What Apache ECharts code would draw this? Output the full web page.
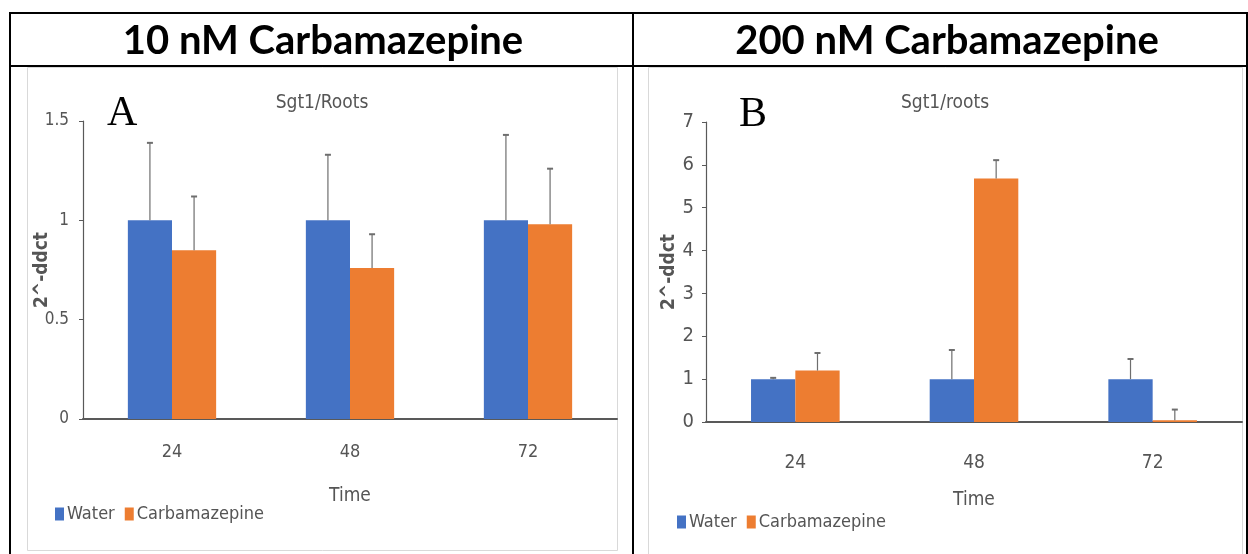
<!DOCTYPE html>
<html>
<head>
<meta charset="utf-8">
<script src="https://cdn.jsdelivr.net/npm/echarts@6/dist/echarts.min.js"></script>
<style>
  html, body { margin: 0; padding: 0; background: #ffffff; }
  #chart { width: 1248px; height: 554px; }
</style>
</head>
<body>
<div id="chart"></div>
<script>
// Time points (hours)
const categories = ['24', '48', '72'];

// Panel A: 10 nM Carbamazepine, Sgt1 expression in roots (2^-ddct)
const waterA = [1, 1, 1];
const waterAErr = [0.39, 0.33, 0.43];
const carbA = [0.85, 0.76, 0.98];
const carbAErr = [0.27, 0.17, 0.28];

// Panel B: 200 nM Carbamazepine
const waterB = [1, 1, 1];
const waterBErr = [0.03, 0.68, 0.47];
const carbB = [1.2, 5.68, 0.04];
const carbBErr = [0.41, 0.43, 0.25];

const seriesNames = ['Water', 'Carbamazepine'];
const headers = ['10 nM Carbamazepine', '200 nM Carbamazepine'];
const chartTitles = ['Sgt1/Roots', 'Sgt1/roots'];
const panelLetters = ['A', 'B'];
const yName = '2^-ddct';
const xName = 'Time';

const BLUE = '#4472C4';
const ORANGE = '#ED7D31';
const GREY_TEXT = '#555555';
const NARROW = "'Liberation Sans Narrow', 'DejaVu Sans Condensed', sans-serif";
const BAR_FRAC = 0.248;

const chart = echarts.init(document.getElementById('chart'), null, { renderer: 'canvas' });

// Error bar drawn upward from the bar top; side = -1 for water (left bar), +1 for carbamazepine
function errorRenderer(side) {
  return function (params, api) {
    const idx = api.value(0);
    const mean = api.value(1);
    const err = api.value(2);
    const band = api.size([1, 0])[0];
    const bw = band * BAR_FRAC;
    const base = api.coord([idx, mean]);
    const top = api.coord([idx, mean + err]);
    const x = base[0] + side * bw / 2;
    const style = { stroke: '#6e6e6e', lineWidth: 1.2 };
    return {
      type: 'group',
      children: [
        { type: 'line', shape: { x1: x, y1: base[1], x2: x, y2: top[1] }, style },
        { type: 'line', shape: { x1: x - 3, y1: top[1], x2: x + 3, y2: top[1] }, style: { stroke: '#6e6e6e', lineWidth: 2 } }
      ]
    };
  };
}

function errData(means, errs) {
  return means.map((m, i) => [i, m, errs[i]]);
}

const axisLabelBase = { color: GREY_TEXT, fontFamily: NARROW };

function makeXAxis(gridIndex, fontSize, margin, nameGap) {
  return {
    type: 'category', gridIndex, data: categories,
    axisTick: { show: false },
    axisLine: { lineStyle: { color: '#595959', width: 2 } },
    axisLabel: Object.assign({ fontSize, margin }, axisLabelBase),
    name: xName, nameLocation: 'middle', nameGap, nameMoveOverlap: false,
    nameTextStyle: { color: GREY_TEXT, fontFamily: NARROW, fontSize: 19 }
  };
}

function makeYAxis(gridIndex, max, interval, fontSize, labelMargin, nameGap) {
  return {
    type: 'value', gridIndex, min: 0, max, interval,
    splitLine: { show: false },
    axisLine: { show: true, lineStyle: { color: '#595959', width: 1.2 } },
    axisTick: { show: true, length: 4, lineStyle: { color: '#595959' } },
    axisLabel: Object.assign({ fontSize, margin: labelMargin }, axisLabelBase),
    name: yName, nameLocation: 'middle', nameGap, nameMoveOverlap: false,
    nameTextStyle: { color: GREY_TEXT, fontFamily: NARROW, fontSize: 19, fontWeight: 'bold' }
  };
}

function barSeries(name, data, axisIndex, color) {
  return {
    type: 'bar', name, data, xAxisIndex: axisIndex, yAxisIndex: axisIndex,
    barWidth: (BAR_FRAC * 100) + '%', barGap: '0%',
    itemStyle: { color }, emphasis: { disabled: true }
  };
}

function errSeries(name, means, errs, axisIndex, side) {
  return {
    type: 'custom', name, xAxisIndex: axisIndex, yAxisIndex: axisIndex,
    data: errData(means, errs), renderItem: errorRenderer(side), z: 5,
    silent: true
  };
}

function legend(left, top) {
  return {
    data: seriesNames, left, top, orient: 'horizontal',
    icon: 'rect', itemWidth: 9, itemHeight: 13, itemGap: 10,
    textStyle: { color: GREY_TEXT, fontFamily: NARROW, fontSize: 18, padding: [0, 0, 0, -2] }
  };
}

// Table frame and panel borders
const blk = { stroke: '#000000', lineWidth: 2 };
const frame = [
  [9, 13, 1248, 13], [9, 66, 1248, 66],
  [10, 13, 10, 554], [633, 13, 633, 554], [1247, 13, 1247, 554]
].map(l => ({ type: 'line', silent: true, shape: { x1: l[0], y1: l[1], x2: l[2], y2: l[3] }, style: blk, z: 10 }));

const panels = [
  { x: 27.5, y: 67.5, w: 590, h: 483 },
  { x: 648.5, y: 67.5, w: 594, h: 490 }
].map(p => ({ type: 'rect', silent: true, shape: { x: p.x, y: p.y, width: p.w, height: p.h }, style: { fill: '#ffffff', stroke: '#d9d9d9', lineWidth: 1 }, z: -10 }));

function txt(text, x, y, font, fill, align) {
  return { type: 'text', x, y, silent: true, z: 20,
    style: { text, font, fill, align: align || 'center', textAlign: align || 'center', verticalAlign: 'middle', textVerticalAlign: 'middle' } };
}

const texts = [
  txt(headers[0], 323, 41, "bold 40px Lato, 'Liberation Sans', sans-serif", '#000000'),
  txt(headers[1], 947, 41, "bold 40px Lato, 'Liberation Sans', sans-serif", '#000000'),
  txt(chartTitles[0], 322, 103, "19px " + NARROW, GREY_TEXT),
  txt(chartTitles[1], 945, 103, "19px " + NARROW, GREY_TEXT),
  txt(panelLetters[0], 107, 114, "42px 'Liberation Serif', serif", '#000000', 'left'),
  txt(panelLetters[1], 739, 115, "42px 'Liberation Serif', serif", '#000000', 'left')
];

chart.setOption({
  animation: false,
  backgroundColor: '#ffffff',
  color: [BLUE, ORANGE],
  grid: [
    { left: 83, right: 631, top: 121, bottom: 135 },
    { left: 706, right: 6, top: 122, bottom: 132 }
  ],
  xAxis: [makeXAxis(0, 18, 24, 68), makeXAxis(1, 19, 32, 69)],
  yAxis: [makeYAxis(0, 1.5, 0.5, 17, 14, 31), makeYAxis(1, 7, 1, 20, 12, 27)],
  legend: [legend(50, 500), legend(672, 508)],
  series: [
    barSeries(seriesNames[0], waterA, 0, BLUE),
    barSeries(seriesNames[1], carbA, 0, ORANGE),
    errSeries(seriesNames[0], waterA, waterAErr, 0, -1),
    errSeries(seriesNames[1], carbA, carbAErr, 0, 1),
    barSeries(seriesNames[0], waterB, 1, BLUE),
    barSeries(seriesNames[1], carbB, 1, ORANGE),
    errSeries(seriesNames[0], waterB, waterBErr, 1, -1),
    errSeries(seriesNames[1], carbB, carbBErr, 1, 1)
  ],
  graphic: panels.concat(frame, texts)
});
</script>
</body>
</html>
